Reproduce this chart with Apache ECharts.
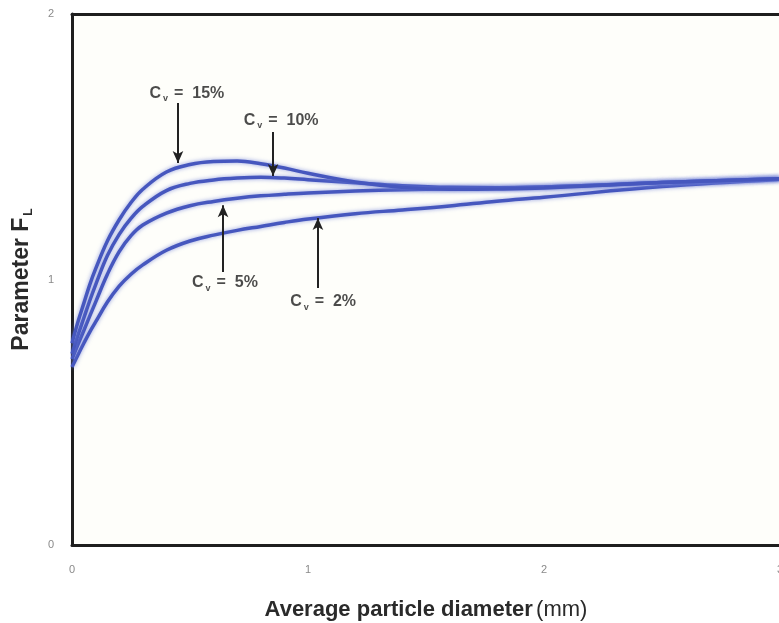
<!DOCTYPE html>
<html>
<head>
<meta charset="utf-8">
<script src="https://cdn.jsdelivr.net/npm/echarts@6/dist/echarts.min.js"></script>
<style>
  html, body { margin: 0; padding: 0; background: #ffffff; }
  #chart { width: 779px; height: 623px; }
</style>
</head>
<body>
<div id="chart"></div>
<script>
// Average particle diameter (mm)
const diameters = [0, 0.025, 0.05, 0.075, 0.1, 0.15, 0.2, 0.25, 0.3, 0.4, 0.5, 0.6, 0.7, 0.8, 0.9, 1.0, 1.2, 1.4, 1.6, 1.8, 2.0, 2.5, 3.0];

// Parameter F_L for each volumetric concentration C_v
const fl15 = [0.76, 0.84, 0.91, 0.98, 1.04, 1.145, 1.225, 1.29, 1.34, 1.405, 1.433, 1.444, 1.446, 1.436, 1.42, 1.40, 1.367, 1.347, 1.34, 1.341, 1.345, 1.365, 1.38];
const fl10 = [0.72, 0.79, 0.855, 0.92, 0.98, 1.09, 1.17, 1.23, 1.275, 1.335, 1.362, 1.375, 1.382, 1.385, 1.382, 1.376, 1.364, 1.353, 1.347, 1.346, 1.348, 1.365, 1.38];
const fl5  = [0.70, 0.755, 0.808, 0.862, 0.915, 1.02, 1.105, 1.165, 1.205, 1.25, 1.278, 1.294, 1.306, 1.315, 1.321, 1.326, 1.333, 1.338, 1.342, 1.345, 1.348, 1.365, 1.38];
const fl2  = [0.67, 0.716, 0.76, 0.802, 0.84, 0.915, 0.975, 1.02, 1.055, 1.11, 1.145, 1.167, 1.185, 1.20, 1.215, 1.228, 1.248, 1.262, 1.277, 1.295, 1.31, 1.35, 1.377];

// Curve annotations: label, label position, arrow x, arrow start y, arrow tip y
const noteNames  = ['15', '10', '5', '2'];
const noteLabelX = [0.487, 0.886, 0.648, 1.064];
const noteLabelY = [1.702, 1.600, 0.987, 0.915];
const arrowX     = [0.449, 0.852, 0.640, 1.042];
const arrowFromY = [1.665, 1.556, 1.028, 0.968];
const arrowToY   = [1.439, 1.390, 1.280, 1.232];

const xTicks = [0, 1, 2, 3];
const yTicks = [0, 1, 2];

const chart = echarts.init(document.getElementById('chart'));

function pairs(ys) {
  return diameters.map((d, i) => [d, ys[i]]);
}

function curve(name, ys) {
  return {
    name: name,
    type: 'line',
    smooth: 0.4,
    symbol: 'none',
    data: pairs(ys),
    lineStyle: {
      color: '#4657be',
      width: 3.5,
      shadowColor: 'rgba(110,125,215,0.75)',
      shadowBlur: 4
    },
    z: 3
  };
}

const arrowLines = noteNames.map((n, i) => [
  { coord: [arrowX[i], arrowFromY[i]], symbol: 'none' },
  { coord: [arrowX[i], arrowToY[i]], symbol: 'arrow', symbolSize: [8, 12] }
]);

const labelPoints = noteNames.map((n, i) => ({
  value: [noteLabelX[i], noteLabelY[i]],
  pct: n
}));

const noteFont = { fontFamily: 'Liberation Sans', fontWeight: 'bold', color: '#1e1e1e' };

const option = {
  backgroundColor: '#ffffff',
  animation: false,
  grid: {
    left: 72, top: 14, width: 708, height: 531,
    outerBoundsMode: 'none',
    show: true, backgroundColor: '#fefefa', borderWidth: 0
  },
  xAxis: [{
    type: 'value',
    min: 0, max: 3, interval: 1,
    axisLine: { show: true, lineStyle: { color: '#1e1e1e', width: 3 } },
    axisTick: { show: false },
    splitLine: { show: false },
    axisLabel: {
      color: '#8a8a8a', fontSize: 11, margin: 19, fontFamily: 'Liberation Sans',
      formatter: v => (xTicks.indexOf(v) >= 0 ? String(v) : '')
    },
    name: '{b|Average particle diameter} {n|(mm)}',
    nameLocation: 'middle',
    nameGap: 54,
    nameTextStyle: {
      rich: {
        b: { fontFamily: 'Liberation Sans', fontSize: 22, fontWeight: 'bold', color: '#2a2a2a' },
        n: { fontFamily: 'Liberation Sans', fontSize: 22, color: '#2a2a2a' }
      }
    }
  }, {
    type: 'value',
    position: 'top',
    min: 0, max: 3,
    axisLine: { show: true, lineStyle: { color: '#1e1e1e', width: 3 } },
    axisTick: { show: false },
    axisLabel: { show: false },
    splitLine: { show: false }
  }],
  yAxis: {
    type: 'value',
    min: 0, max: 2, interval: 1,
    axisLine: { show: true, lineStyle: { color: '#1e1e1e', width: 3 } },
    axisTick: { show: false },
    splitLine: { show: false },
    axisLabel: {
      color: '#8a8a8a', fontSize: 11, margin: 18, fontFamily: 'Liberation Sans',
      formatter: v => (yTicks.indexOf(v) >= 0 ? String(v) : '')
    },
    name: '{b|Parameter F}{s|L}',
    nameLocation: 'middle',
    nameGap: 37,
    nameRotate: 90,
    nameTextStyle: {
      rich: {
        b: { fontFamily: 'Liberation Sans', fontSize: 23, fontWeight: 'bold', color: '#2a2a2a', lineHeight: 26 },
        s: { fontFamily: 'Liberation Sans', fontSize: 12, fontWeight: 'bold', color: '#2a2a2a', lineHeight: 26, verticalAlign: 'bottom', padding: [13, 0, 0, 2] }
      }
    }
  },
  series: [
    curve('Cv = 2%', fl2),
    curve('Cv = 5%', fl5),
    curve('Cv = 10%', fl10),
    curve('Cv = 15%', fl15),
    {
      name: 'arrows',
      type: 'line',
      data: [],
      markLine: {
        silent: true,
        animation: false,
        lineStyle: { color: '#222222', width: 2, type: 'solid' },
        label: { show: false },
        data: arrowLines
      }
    },
    {
      name: 'notes',
      type: 'scatter',
      symbolSize: 0,
      data: labelPoints,
      silent: true,
      label: {
        show: true,
        position: 'inside',
        formatter: p => '{c|C}{v|v}{t|=  ' + p.data.pct + '%}',
        rich: {
          c: Object.assign({ fontSize: 16 }, noteFont),
          v: Object.assign({ fontSize: 9, padding: [11, 6, 0, 2] }, noteFont),
          t: Object.assign({ fontSize: 16 }, noteFont)
        }
      },
      z: 5
    }
  ]
};

chart.setOption(option);
</script>
</body>
</html>
